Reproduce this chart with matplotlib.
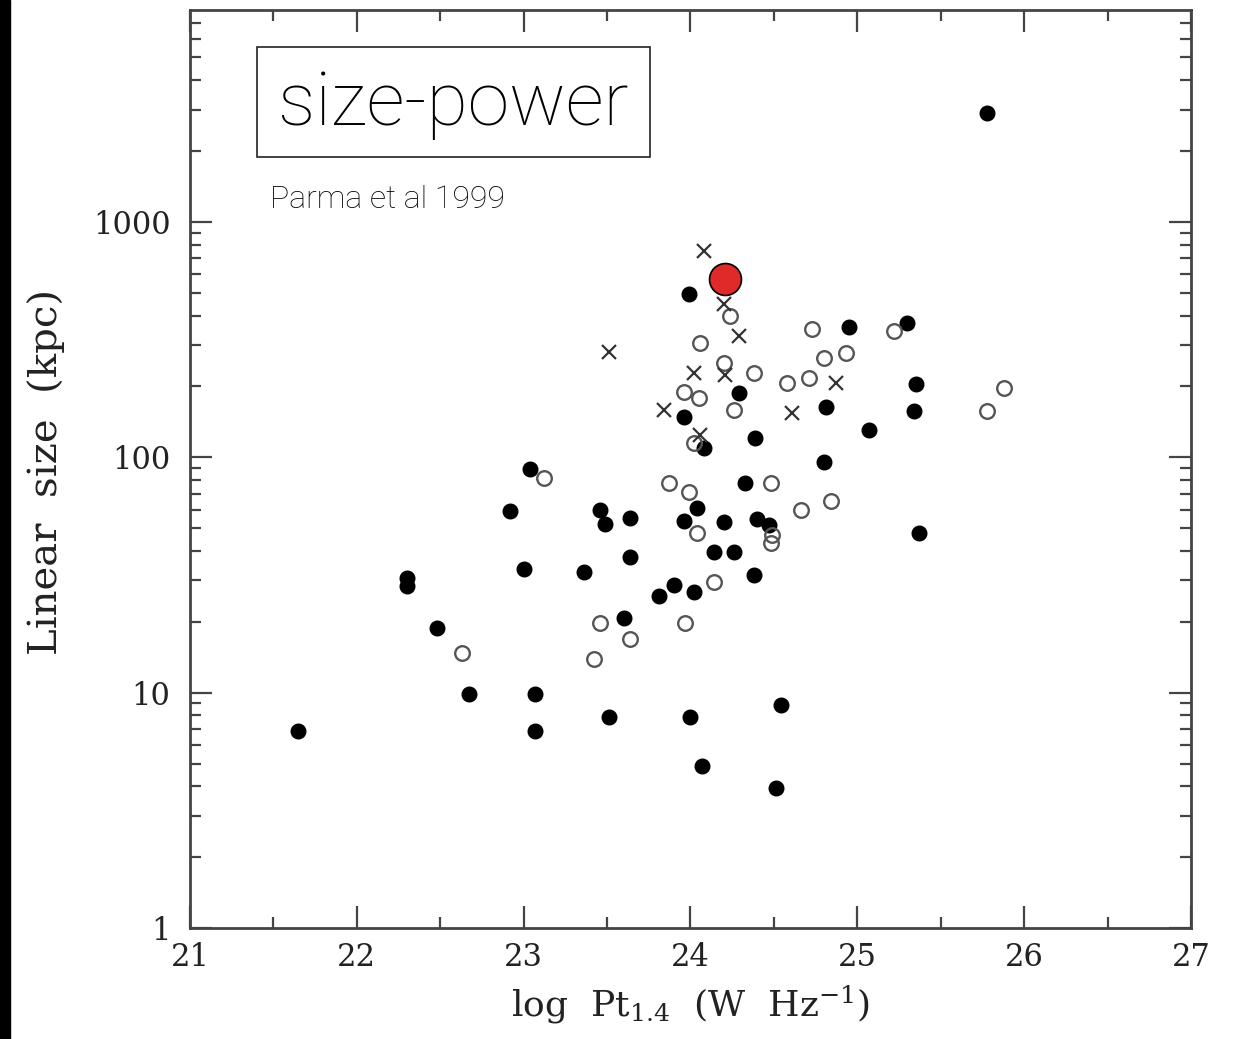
import matplotlib
matplotlib.use('Agg')
import matplotlib.pyplot as plt
from matplotlib.patches import Rectangle
from matplotlib.ticker import LogLocator, MultipleLocator, FixedFormatter, FixedLocator

plt.rcParams['font.family'] = 'DejaVu Serif'
plt.rcParams['mathtext.fontset'] = 'dejavuserif'

# filled circles
filled_x = [21.65, 22.30, 22.30, 22.48, 22.67, 22.92, 23.00, 23.04, 23.07, 23.07,
            23.36, 23.46, 23.49, 23.51, 23.60, 23.64, 23.64, 23.81, 23.90, 23.96,
            23.96, 23.99, 24.00, 24.02, 24.04, 24.08, 24.07, 24.14, 24.20, 24.26,
            24.29, 24.33, 24.39, 24.38, 24.40, 24.47, 24.51, 24.54, 24.80, 24.81,
            24.95, 25.07, 25.30, 25.34, 25.35, 25.37, 25.78]
filled_y = [6.9, 30.7, 28.4, 18.8, 9.9, 59, 33.5, 89, 9.9, 6.9,
            32.5, 60, 52, 7.9, 20.7, 55, 37.7, 25.7, 28.6, 53.6,
            148, 493, 7.9, 26.8, 61, 109, 4.9, 39.6, 53, 39.6,
            187, 78, 121, 31.6, 54.6, 51.5, 3.95, 8.9, 95.5, 163,
            357, 130, 372, 157, 205, 47.6, 2900]

# open circles
open_x = [22.63, 23.12, 23.42, 23.46, 23.64, 23.97, 23.87, 23.99, 24.04, 24.14,
          24.48, 24.66, 24.84, 24.49, 24.48, 24.73, 25.22, 24.80, 24.93, 24.71,
          24.58, 24.38, 24.20, 24.24, 24.06, 23.96, 24.05, 24.26, 24.02, 25.88,
          25.78]
open_y = [14.7, 82, 13.9, 19.8, 16.9, 19.8, 78, 71, 47.6, 29.5,
          78, 60, 65, 46.7, 43.2, 351, 344, 264, 277, 217,
          207, 228, 251, 398, 306, 189, 179, 159, 115, 197,
          157]

# crosses
cross_x = [24.08, 24.20, 24.29, 23.51, 24.02, 24.21, 24.87, 23.84, 24.61, 24.06]
cross_y = [752, 448, 327, 280, 228, 223, 207, 159, 154, 124]

# highlighted source
red_x = [24.21]
red_y = [571]

x_ticks = [21, 22, 23, 24, 25, 26, 27]
y_ticks = [1, 10, 100, 1000]
y_tick_labels = ['1', '10', '100', '1000']

fig = plt.figure(figsize=(12.39, 10.39), dpi=100)
ax = fig.add_axes([0.1533, 0.1068, 0.8079, 0.8835])

ax.plot(filled_x, filled_y, 'o', color='black', ms=10.5, mec='black', zorder=3)
ax.plot(open_x, open_y, 'o', mfc='none', mec='#555555', ms=10.5, mew=1.7, zorder=3)
ax.plot(cross_x, cross_y, 'x', color='#333333', ms=10, mew=1.6, zorder=3)
ax.plot(red_x, red_y, 'o', color='#e02a2a', mec='black', ms=23, mew=1.2, zorder=4)

ax.set_yscale('log')
ax.set_xlim(21, 27)
ax.set_ylim(1, 10 ** 3.9)

ax.xaxis.set_major_locator(FixedLocator(x_ticks))
ax.xaxis.set_minor_locator(MultipleLocator(0.5))
ax.yaxis.set_major_locator(FixedLocator(y_ticks))
ax.yaxis.set_major_formatter(FixedFormatter(y_tick_labels))
ax.yaxis.set_minor_locator(LogLocator(base=10, subs=range(2, 10)))
ax.yaxis.set_minor_formatter(FixedFormatter([]))

ax.tick_params(which='both', direction='in', top=True, right=True,
               color='#444444', width=1.6)
ax.tick_params(which='major', length=16, labelsize=22, labelcolor='#222222')
ax.tick_params(which='minor', length=8)
ax.tick_params(axis='x', which='major', pad=10)
ax.tick_params(axis='y', which='major', pad=14)
for s in ax.spines.values():
    s.set_color('#444444')
    s.set_linewidth(2)

ax.set_xlabel(r'log  Pt$_{1.4}$  (W  Hz$^{-1}$)', fontsize=26, color='#222222')
ax.xaxis.set_label_coords(0.5, -0.06)
ax.set_ylabel('Linear  size  (kpc)', fontsize=29, color='#222222')
ax.yaxis.set_label_coords(-0.125, 0.497)

# title box
ax.add_patch(Rectangle((0.067, 0.84), 0.393, 0.12, transform=ax.transAxes,
                       fill=False, ec='#222222', lw=1.2, zorder=5))
ax.text(0.2635, 0.897, 'size-power', transform=ax.transAxes, fontsize=54,
        family='Roboto', fontweight='light', ha='center', va='center', zorder=5)
ax.text(0.08, 0.794, 'Parma et al 1999', transform=ax.transAxes, fontsize=23,
        family='Roboto', fontweight='light', ha='left', va='center')

# black strip on the left edge
fig.patches.append(Rectangle((0, 0), 10 / 1239, 1, transform=fig.transFigure,
                             color='black', zorder=10))

fig.savefig('out.png', dpi=100)
